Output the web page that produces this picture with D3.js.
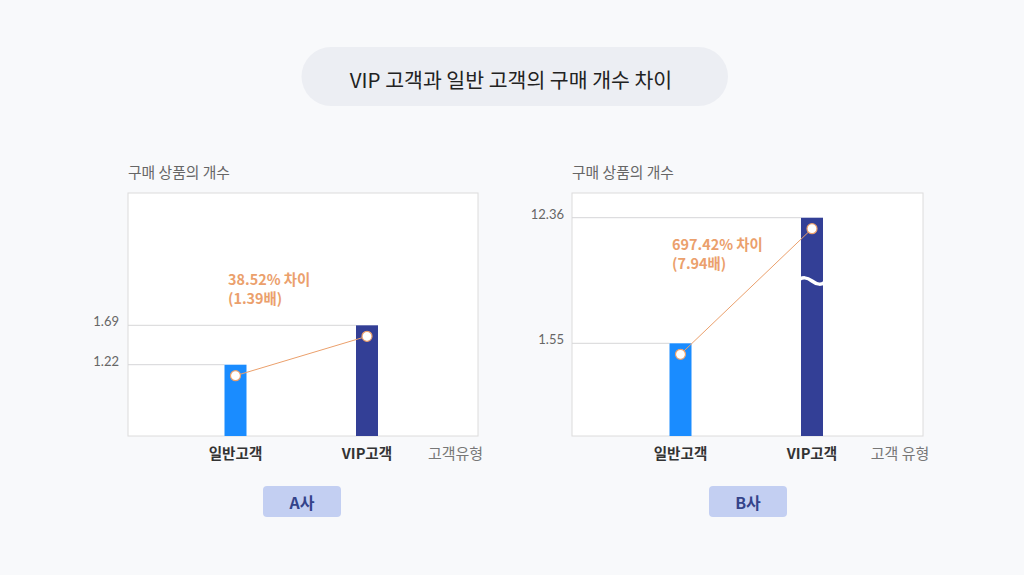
<!DOCTYPE html>
<html>
<head>
<meta charset="utf-8">
<script src="https://cdn.jsdelivr.net/npm/d3@7"></script>
<style>
  html, body { margin: 0; padding: 0; background: #f8f9fb; }
  svg { display: block; }
  text { font-family: 'Noto Sans CJK KR', 'Noto Sans', sans-serif; }
</style>
</head>
<body>
<svg width="1024" height="575"></svg>
<script>
// chart values
const TITLE = 'VIP 고객과 일반 고객의 구매 개수 차이';
const Y_TITLE = '구매 상품의 개수';
const CATEGORIES = ['일반고객', 'VIP고객'];
const COMPANIES = ['A사', 'B사'];
const X_TITLES = ['고객유형', '고객 유형'];
const VALUES_A = [1.22, 1.69];
const VALUES_B = [1.55, 12.36];
const DIFF_LABELS = [['38.52% 차이', '(1.39배)'], ['697.42% 차이', '(7.94배)']];

const BAR_COLORS = ['#1a8cff', '#333f96'];
const ORANGE = '#eba06c';

const svg = d3.select('svg');

svg.append('rect')
  .attr('width', 1024).attr('height', 575)
  .attr('fill', '#f8f9fb');

// title pill
svg.append('rect')
  .attr('x', 301.5).attr('y', 47)
  .attr('width', 426.5).attr('height', 59)
  .attr('rx', 29.5)
  .attr('fill', '#eceef3');

svg.append('text')
  .attr('x', 511).attr('y', 78.5)
  .attr('text-anchor', 'middle')
  .attr('dominant-baseline', 'central')
  .attr('fill', '#222')
  .style('font-size', '20.5px')
  .text(TITLE);

const panels = [
  {values: VALUES_A, left: 128, right: 478, bar0: 235.5, bar1: 367, labelRight: 119,
   // bottom of box sits below the smaller value, no break needed
   yRange: [436, 364.7, 325.3], breakAxis: false, note: [228, 285], badge: 263, xTitle: 455.5},
  {values: VALUES_B, left: 572, right: 923, bar0: 680.5, bar1: 812, labelRight: 564,
   // broken axis: VIP bar is cut with a wave
   yRange: [436, 343.3, 217.7], breakAxis: true, note: [672, 250], badge: 709, xTitle: 900},
];

const plotTop = 193, plotBottom = 436;

panels.forEach((p, i) => {
  const g = svg.append('g');

  const x = d3.scaleOrdinal(CATEGORIES, [p.bar0, p.bar1]);
  const y = d3.scaleLinear()
    .domain([0, p.values[0], p.values[1]])
    .range(p.yRange);

  const barWidth = 22;

  // y title
  g.append('text')
    .attr('x', p.left).attr('y', 171.5)
    .attr('dominant-baseline', 'central')
    .attr('fill', '#666')
    .style('font-size', '14.8px')
    .text(Y_TITLE);

  // plot box
  g.append('rect')
    .attr('x', p.left).attr('y', plotTop)
    .attr('width', p.right - p.left).attr('height', plotBottom - plotTop)
    .attr('fill', '#fff')
    .attr('stroke', '#dcdcdc')
    .attr('stroke-width', 1);

  // gridlines from left edge to each bar
  g.selectAll('line.grid')
    .data(p.values)
    .join('line')
      .attr('class', 'grid')
      .attr('x1', p.left)
      .attr('x2', (d, j) => x(CATEGORIES[j]) - barWidth / 2)
      .attr('y1', (d) => y(d))
      .attr('y2', (d) => y(d))
      .attr('stroke', '#d6d6d8')
      .attr('stroke-width', 1);

  // tick labels
  g.selectAll('text.tick')
    .data(p.values)
    .join('text')
      .attr('class', 'tick')
      .attr('x', p.labelRight)
      .attr('y', (d) => y(d) - 4)
      .attr('text-anchor', 'end')
      .attr('dominant-baseline', 'central')
      .attr('fill', '#666')
      .style('font-family', 'Lato, sans-serif')
      .style('font-size', '13px')
      .text((d) => d.toFixed(2));

  // bars
  g.selectAll('rect.bar')
    .data(p.values)
    .join('rect')
      .attr('class', 'bar')
      .attr('x', (d, j) => x(CATEGORIES[j]) - barWidth / 2)
      .attr('y', (d) => y(d))
      .attr('width', barWidth)
      .attr('height', (d) => plotBottom - y(d))
      .attr('fill', (d, j) => BAR_COLORS[j]);

  if (p.breakAxis) {
    const cx = x(CATEGORIES[1]);
    const by = 281;
    g.append('path')
      .attr('d', `M${cx - 16},${by + 2} C${cx - 10},${by - 6} ${cx - 4},${by - 3} ${cx},${by} S${cx + 10},${by + 6} ${cx + 16},${by - 2}`)
      .attr('fill', 'none')
      .attr('stroke', '#fff')
      .attr('stroke-width', 3.5);
  }

  // connector line + dots, sitting just under each bar top
  const dotOffset = 11;
  const pts = p.values.map((d, j) => [x(CATEGORIES[j]), y(d) + dotOffset]);

  g.append('path')
    .attr('d', d3.line()(pts))
    .attr('fill', 'none')
    .attr('stroke', ORANGE)
    .attr('stroke-width', 1);

  g.selectAll('circle')
    .data(pts)
    .join('circle')
      .attr('cx', (d) => d[0])
      .attr('cy', (d) => d[1])
      .attr('r', 5)
      .attr('fill', '#fff')
      .attr('stroke', ORANGE)
      .attr('stroke-width', 1.2);

  // difference note
  g.selectAll('text.note')
    .data(DIFF_LABELS[i])
    .join('text')
      .attr('class', 'note')
      .attr('x', p.note[0])
      .attr('y', (d, j) => p.note[1] + j * 19)
      .attr('fill', ORANGE)
      .style('font-size', '14.4px')
      .style('font-weight', 'bold')
      .text((d) => d);

  // category labels
  g.selectAll('text.cat')
    .data(CATEGORIES)
    .join('text')
      .attr('class', 'cat')
      .attr('x', (d) => x(d))
      .attr('y', 452)
      .attr('text-anchor', 'middle')
      .attr('dominant-baseline', 'central')
      .attr('fill', '#333')
      .style('font-size', '14.6px')
      .style('font-weight', 'bold')
      .text((d) => d);

  g.append('text')
    .attr('x', p.xTitle)
    .attr('y', 452)
    .attr('text-anchor', 'middle')
    .attr('dominant-baseline', 'central')
    .attr('fill', '#777')
    .style('font-size', '15px')
    .text(X_TITLES[i]);

  // company badge
  g.append('rect')
    .attr('x', p.badge).attr('y', 486)
    .attr('width', 78).attr('height', 31)
    .attr('rx', 4)
    .attr('fill', '#c3cff2');

  g.append('text')
    .attr('x', p.badge + 39).attr('y', 501.5)
    .attr('text-anchor', 'middle')
    .attr('dominant-baseline', 'central')
    .attr('fill', '#34438a')
    .style('font-size', '16px')
    .style('font-weight', 'bold')
    .text(COMPANIES[i]);
});
</script>
</body>
</html>
